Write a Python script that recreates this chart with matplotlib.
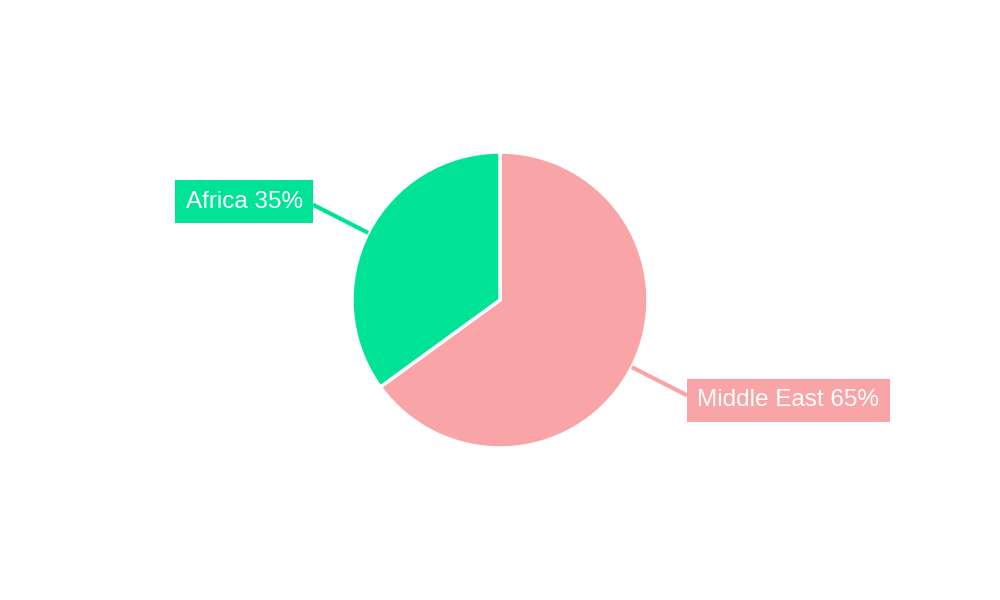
import numpy as np
import matplotlib.pyplot as plt

# Share of total by region
regions = ['Middle East', 'Africa']
shares = [65, 35]
colors = ['#F9A5A7', '#00E396']

plt.rcParams['font.family'] = ['Liberation Sans', 'DejaVu Sans']

fig = plt.figure(figsize=(10, 6), dpi=100)
ax = fig.add_axes([0, 0, 1, 1])

center = (500, 300)
radius = 148
wedges, _ = ax.pie(shares, colors=colors, startangle=90, counterclock=False,
                   center=center, radius=radius,
                   wedgeprops=dict(edgecolor='white', linewidth=2.5))
ax.set_xlim(0, 1000)
ax.set_ylim(0, 600)
ax.set_aspect('equal')
ax.axis('off')

fs = 17.5
pad = 0.42
pad_px = pad * fs * 100 / 72
total = sum(shares)
for w, name, val, col in zip(wedges, regions, shares, colors):
    mid = np.deg2rad((w.theta1 + w.theta2) / 2)
    x0 = center[0] + radius * np.cos(mid)
    y0 = center[1] + radius * np.sin(mid)
    x1 = center[0] + (radius + 62) * np.cos(mid)
    y1 = center[1] + (radius + 62) * np.sin(mid)
    ax.plot([x0, x1], [y0, y1], color=col, linewidth=3, solid_capstyle='butt')
    right = np.cos(mid) > 0
    ha = 'left' if right else 'right'
    dx = pad_px if right else -pad_px
    dy = -5 if right else 3
    ax.text(x1 + dx, y1 + dy, f'{name} {val / total * 100:.0f}%', ha=ha, va='center',
            fontsize=fs, color='white',
            bbox=dict(boxstyle=f'square,pad={pad}', facecolor=col, edgecolor='none'))

fig.savefig('out.png', dpi=100, facecolor='white')
